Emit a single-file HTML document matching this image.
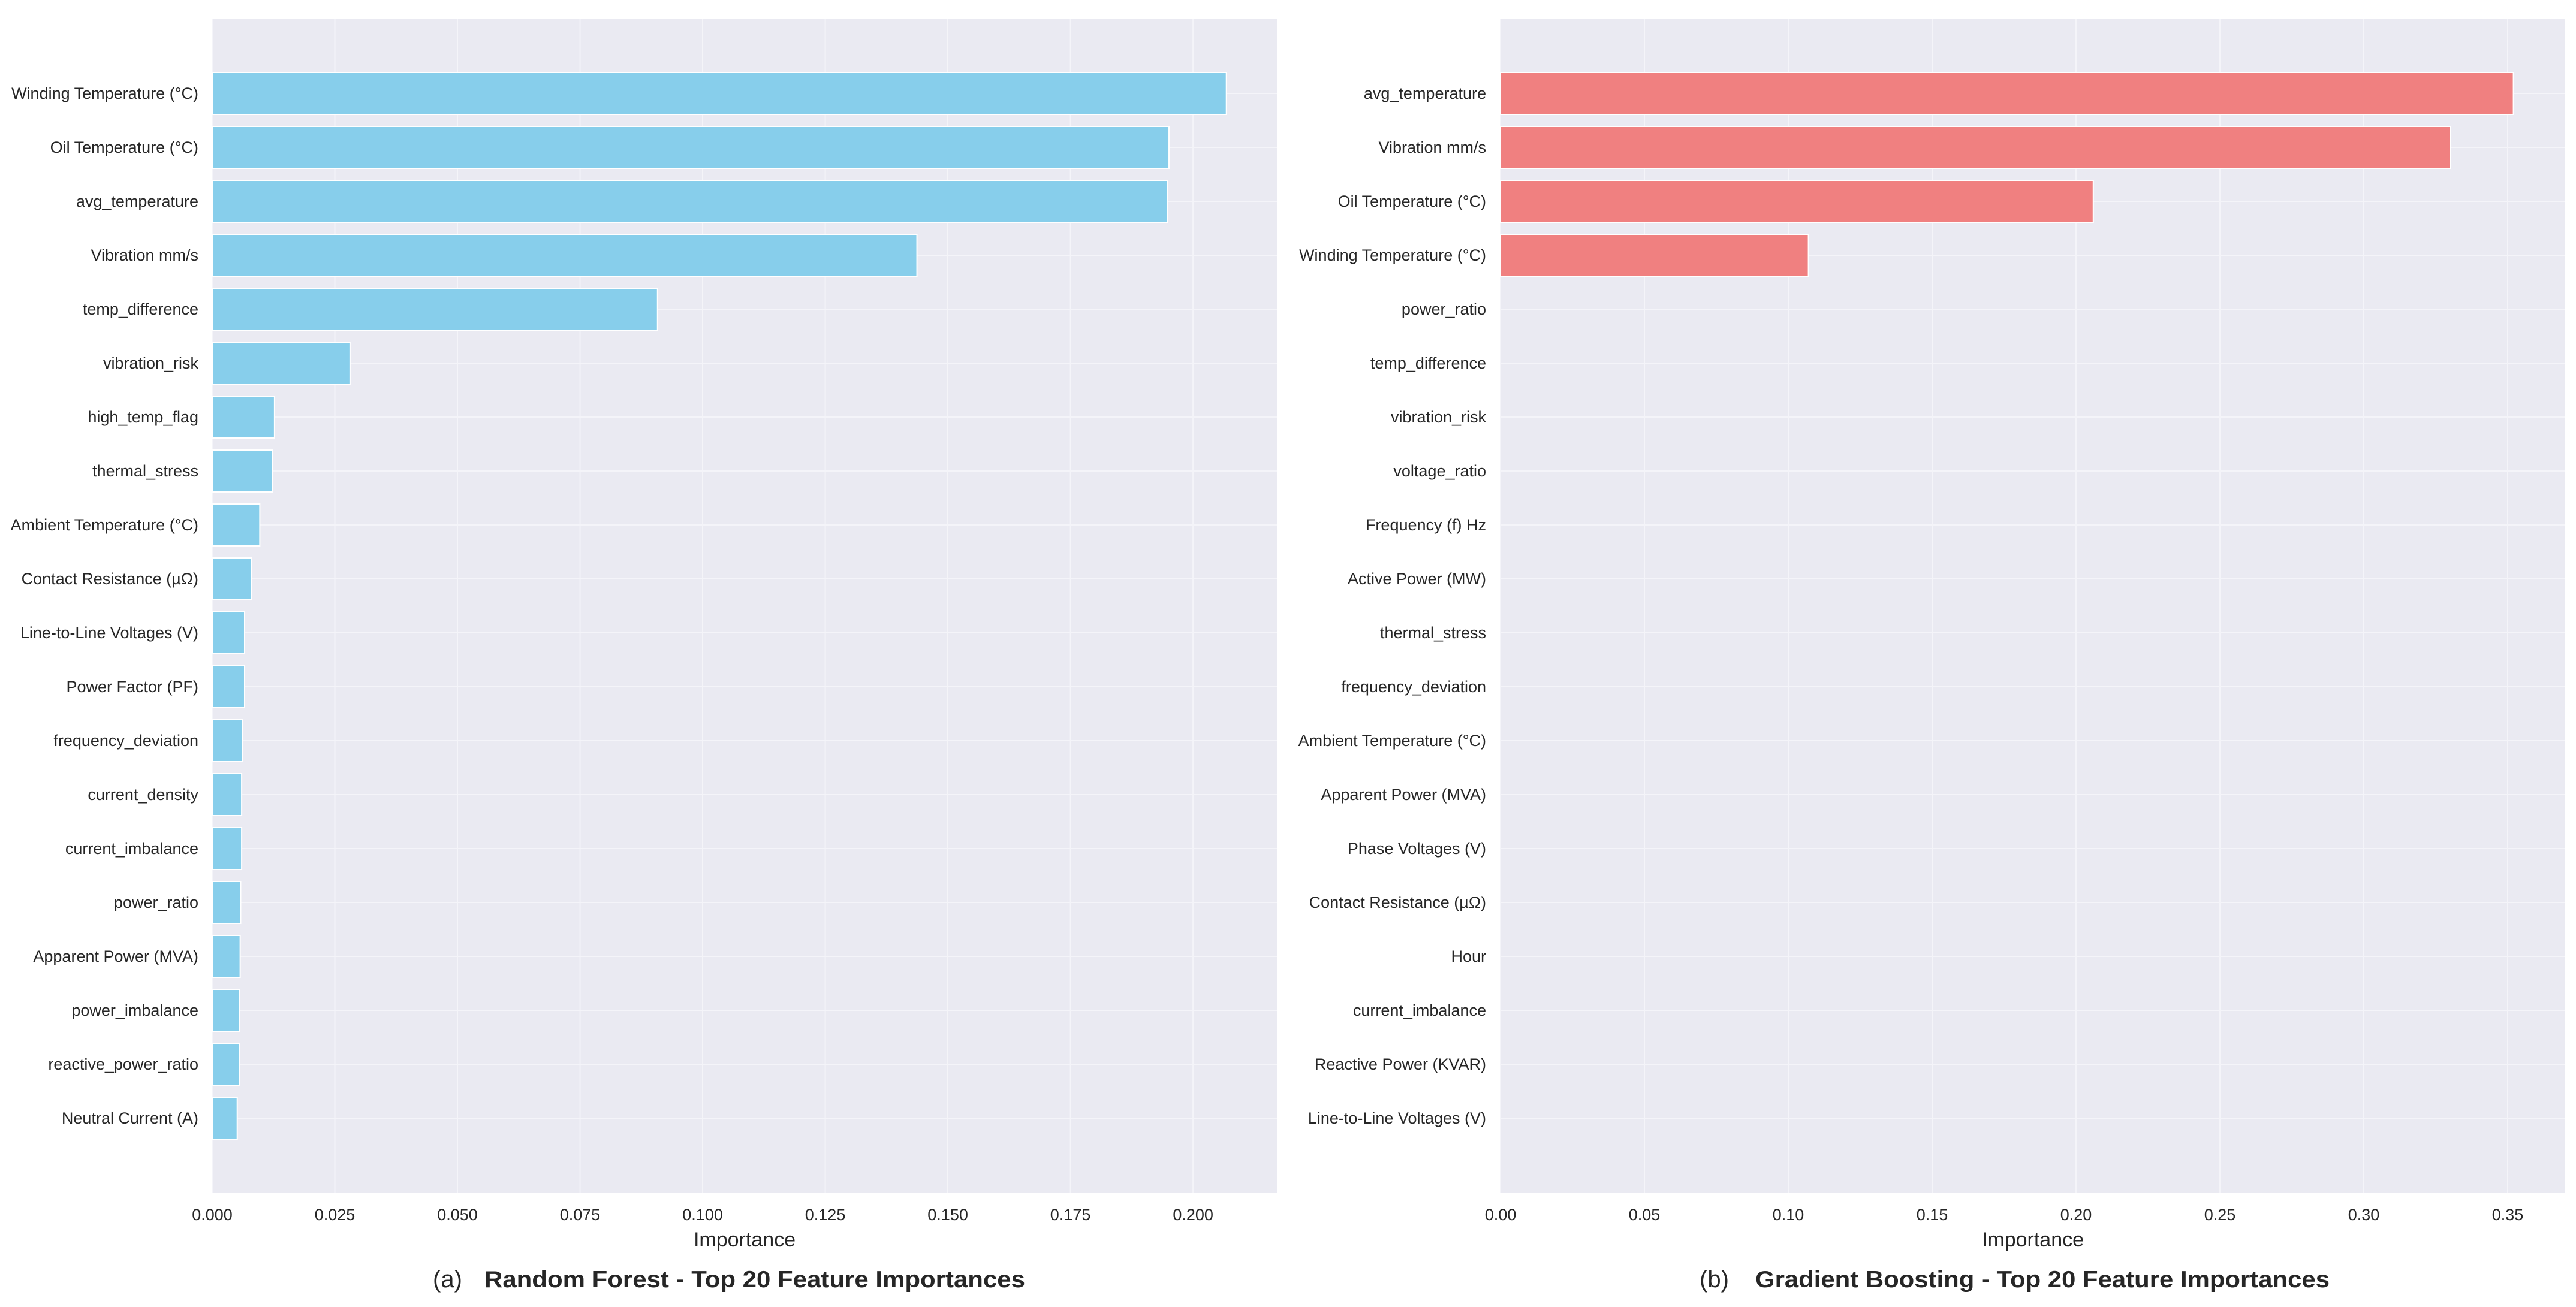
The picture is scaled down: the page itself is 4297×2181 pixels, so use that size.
<!DOCTYPE html>
<html><head><meta charset="utf-8"><style>
body{margin:0;background:#fff;}
svg text{font-family:"Liberation Sans",sans-serif;fill:#262626;}
</style></head><body>
<svg id="fig" width="4297" height="2176" xmlns="http://www.w3.org/2000/svg"></svg>
<script>
const rfLabels=["Winding Temperature (°C)","Oil Temperature (°C)","avg_temperature","Vibration mm/s","temp_difference","vibration_risk","high_temp_flag","thermal_stress","Ambient Temperature (°C)","Contact Resistance (µΩ)","Line-to-Line Voltages (V)","Power Factor (PF)","frequency_deviation","current_density","current_imbalance","power_ratio","Apparent Power (MVA)","power_imbalance","reactive_power_ratio","Neutral Current (A)"];
const rfValues=[0.2068,0.1951,0.1948,0.1437,0.0908,0.0281,0.0127,0.0123,0.0097,0.0080,0.0066,0.0066,0.0062,0.0060,0.0060,0.0058,0.0057,0.0056,0.0056,0.0051];
const rfTicks=["0.000","0.025","0.050","0.075","0.100","0.125","0.150","0.175","0.200"];
const rfTickVals=[0,0.025,0.05,0.075,0.1,0.125,0.15,0.175,0.2];
const gbLabels=["avg_temperature","Vibration mm/s","Oil Temperature (°C)","Winding Temperature (°C)","power_ratio","temp_difference","vibration_risk","voltage_ratio","Frequency (f) Hz","Active Power (MW)","thermal_stress","frequency_deviation","Ambient Temperature (°C)","Apparent Power (MVA)","Phase Voltages (V)","Contact Resistance (µΩ)","Hour","current_imbalance","Reactive Power (KVAR)","Line-to-Line Voltages (V)"];
const gbValues=[0.352,0.330,0.206,0.107,0,0,0,0,0,0,0,0,0,0,0,0,0,0,0,0];
const gbTicks=["0.00","0.05","0.10","0.15","0.20","0.25","0.30","0.35"];
const gbTickVals=[0,0.05,0.1,0.15,0.2,0.25,0.3,0.35];

const NS="http://www.w3.org/2000/svg";
const svg=document.getElementById('fig');
function mk(tag,attrs,parent,txt){const e=document.createElementNS(NS,tag);for(const k in attrs)e.setAttribute(k,attrs[k]);if(txt!==undefined)e.textContent=txt;(parent||svg).appendChild(e);return e;}

function panel(o){
  const g=mk('g',{});
  
  
  const L=o.left,R=o.right,T=31,B=1990;
  const x=v=>L+(v/o.xmax)*(R-L);
  const y=i=>156+i*90;
  const bg=mk('rect',{x:L,y:T,width:R-L,height:B-T,fill:'#eaeaf2'},g);
  
  
  o.tickVals.forEach((v,i)=>{
    const gl=mk('line',{x1:x(v),x2:x(v),y1:T,y2:B,stroke:'#f4f4f9','stroke-width':2},g);
    
    
    const t=mk('text',{x:x(v),y:2036,'font-size':27,'text-anchor':'middle'},g,o.ticks[i]);
    
    
  });
  o.labels.forEach((lab,i)=>{
    const gl=mk('line',{x1:L,x2:R,y1:y(i),y2:y(i),stroke:'#f4f4f9','stroke-width':2},g);
    
    
  });
  o.labels.forEach((lab,i)=>{
    if(o.values[i]>0){
      const b=mk('rect',{x:L,y:y(i)-35,width:x(o.values[i])-L,height:70,fill:o.color,stroke:'#fff','stroke-width':2},g);
      
      
    }
    const t=mk('text',{x:o.labelX,y:y(i)+9,'font-size':27,'text-anchor':'end'},g,lab);
    
    
  });
  const xl=mk('text',{x:(L+R)/2,y:2080,'font-size':34,'text-anchor':'middle'},g,'Importance');
  
  
  const p=mk('text',{x:o.capX,y:2148,'font-size':40},g,o.cap);
  
  
  const tt=mk('text',{x:o.titleX,y:2148,'font-size':39,'font-weight':'bold',textLength:o.titleW,lengthAdjust:'spacingAndGlyphs'},g,o.title);
  
  
}
panel({name:'random-forest-panel',left:354,right:2130,xmax:0.2171,labels:rfLabels,values:rfValues,ticks:rfTicks,tickVals:rfTickVals,color:'#87ceeb',labelX:331,cap:'(a)',capX:722,title:'Random Forest - Top 20 Feature Importances',titleX:808,titleW:902});
panel({name:'gradient-boosting-panel',left:2503,right:4279,xmax:0.37,labels:gbLabels,values:gbValues,ticks:gbTicks,tickVals:gbTickVals,color:'#f08080',labelX:2479,cap:'(b)',capX:2835,title:'Gradient Boosting - Top 20 Feature Importances',titleX:2928,titleW:958});
</script>
</body></html>
